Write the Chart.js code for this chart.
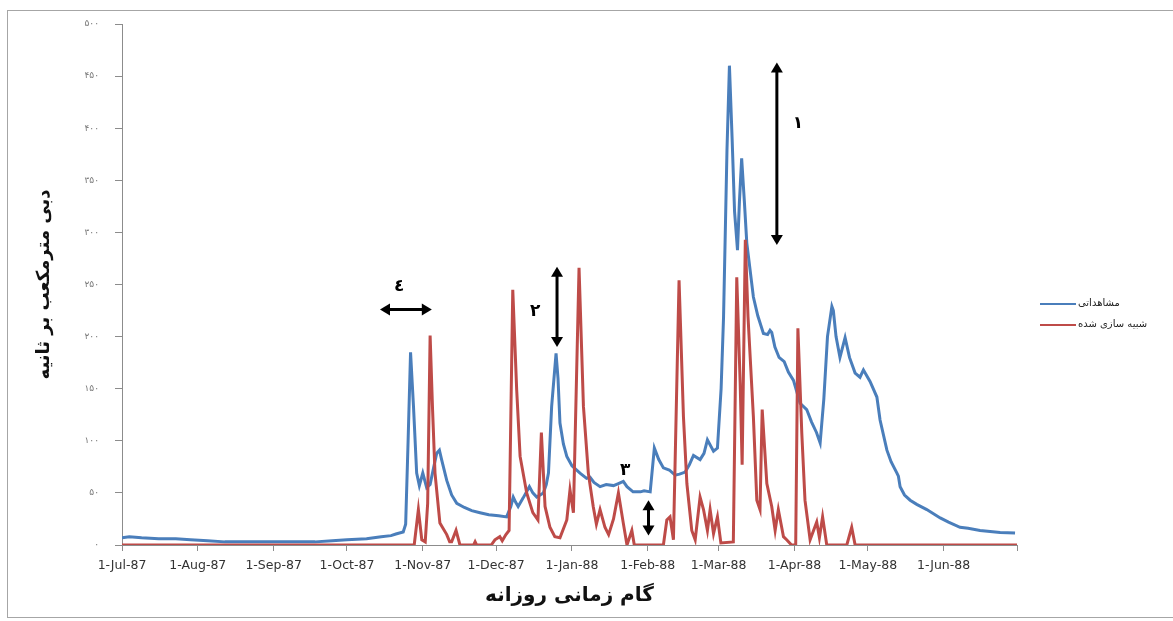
<!DOCTYPE html>
<html><head><meta charset="utf-8">
<script src="https://cdn.jsdelivr.net/npm/chart.js@4.4.1/dist/chart.umd.min.js"></script>
<style>html,body{margin:0;padding:0;background:#fff;}#wrap{position:relative;width:1173px;height:621px;}</style>
</head><body><div id="wrap"><canvas id="c" width="1173" height="621"></canvas></div>
<script>
// Day index counted from 1-Jul-1987
const monthTickDays = [0,31,62,92,123,153,184,215,244,275,305,336,366];
const monthTickLabels = ['1-Jul-87','1-Aug-87','1-Sep-87','1-Oct-87','1-Nov-87','1-Dec-87','1-Jan-88','1-Feb-88','1-Mar-88','1-Apr-88','1-May-88','1-Jun-88',''];
const yTickValues = [0,50,100,150,200,250,300,350,400,450,500];

const obsDays = [0,3,8,15,22,28,35,42,55,65,79,86,92,100,106,110,112,115,116,117,118,119.2,120.5,121.6,123,124.6,126,127.5,128.7,129.8,130.7,132.8,134.8,136.9,140,143,146.4,150,154,157.3,159,160,161,162,164,166.6,168,169.6,171,172.3,173.5,174.4,175.7,177.5,178.3,179.1,180.5,181.9,184,187.3,190,191.4,193,195.5,198,201,203,205,206.5,209,212,213.5,216,217.7,219.5,221.4,223.8,226.2,228,230.3,232,233.7,236.4,238,239.4,241.9,243.5,245,246,247.4,248.4,249.5,250.5,251.7,252.5,253.4,254.5,255.5,258.2,260,262.3,264,265,265.7,267,268.7,270.8,272.5,274.6,277.3,280,282,284,285.5,287,288.5,290.3,290.9,292,293.6,295.7,297.5,299.8,301.8,303.2,305.9,308.7,310,312.8,314.5,316.9,317.5,318.2,320,322.3,325,329.1,334.6,338,342.7,346,350.9,355,359.1,365.2];
const obsValues = [7,8,7,6,6,5,4,3,3,3,3,4,5,6,8,9,10.5,12.5,20,100,185,133,69,57,69,55,58,75,88,91,82,62,48,40,36,33,31,29,28,27,37,46,41,37,45,56,50,46,48,50,58,69,133,184,160,117,97,85,76,69,64,65,60,56,58,57,59,61,56,51,51,52,51,93,82,74,72,67,68,70,77,86,82,88,101,90,93,150,219,379,460,390,320,283,330,371,330,290,238,220,203,202,206,204,190,180,176,166,158,136,130,118,108,98,140,200,229,225,200,180,199,180,165,161,168,157,142,120,91,80,69,66,56,48,43,39,34,26,22,17,16,14,13,12,11.5];

const simDays = [0,119.5,121.2,122.6,124,125,126,127,128,130,132.8,134,134.8,136.6,138.2,143.8,144.4,145,151,152.5,154.5,155.5,157,158.3,159.8,161.4,162.8,165.5,168,170.1,171.5,173,175,177,179.1,181.9,183.2,184.6,186.9,188.7,190.7,192.7,194,195.5,197.5,199,201,203,205,206.5,208.5,209.5,221.4,222.8,224.1,225.5,227.8,229.6,231,233,234.4,236.4,237.8,239.4,240.5,241.9,243.5,244.9,250,251.4,252.8,253.6,254.9,256,258.2,259.6,260.9,261.8,263.7,265.7,267.1,268.4,270.5,271.8,273.8,275.5,276.4,278,279.3,281.4,284.1,285.2,286.5,288.2,296.4,298.4,299.8,366];
const simValues = [0,0,34,5,3,40,201,130,69,21,10,3,3,14,0,0,3,0,0,5,8,4,10,14,245,149,85,50,31,24,108,37,17,8,7,24,53,31,266,133,69,37,20,34,17,10,25,50,21,0,14,0,0,24,27,5,254,123,59,14,5,46,34,14,34,11,27,2,3,257,155,77,293,219,123,43,34,130,59,37,14,34,8,5,0,0,208,107,43,5,22,7,27,0,0,17,0,0];

const seriesNames = ['مشاهداتی','شبیه سازی شده'];
const xTitle = 'گام زمانی روزانه';
const yTitle = 'دبی مترمکعب بر ثانیه';

// annotation marks (in data units: day, value)
const vArrows = [{day:267.8,from:463,to:288},{day:177.9,from:267,to:190},{day:215.3,from:43,to:9}];
const hArrows = [{value:226,from:105.5,to:126.7}];
const annTexts = [{day:276.4,value:404,text:'۱'},{day:169,value:224,text:'۲'},{day:205.8,value:71,text:'۳'},{day:113.4,value:248,text:'٤'}];

const toFa = v => String(v).replace(/\d/g, d => '۰۱۲۳۴۵۶۷۸۹'[d]);

const BLUE = '#4a7ebb', RED = '#be4b48';

const extras = {
  id:'extras',
  beforeDraw(chart){
    const ctx = chart.ctx;
    ctx.save();
    ctx.fillStyle = '#fff';
    ctx.fillRect(0,0,chart.width,chart.height);
    ctx.strokeStyle = '#a6a6a6';
    ctx.lineWidth = 1;
    ctx.strokeRect(7.5,10.5,1200,607);
    ctx.restore();
  },
  afterDraw(chart){
    const ctx = chart.ctx, xs = chart.scales.x, ys = chart.scales.y;
    ctx.save();
    // legend
    const legendItems = [{c:BLUE,t:seriesNames[0],y:304},{c:RED,t:seriesNames[1],y:325}];
    legendItems.forEach(it=>{
      ctx.strokeStyle = it.c; ctx.lineWidth = 2;
      ctx.beginPath(); ctx.moveTo(1040,it.y); ctx.lineTo(1076,it.y); ctx.stroke();
      ctx.fillStyle = '#222'; ctx.font = '10px "DejaVu Sans"';
      ctx.textAlign = 'left'; ctx.textBaseline = 'middle';
      ctx.fillText(it.t, 1078, it.y-1);
    });
    // arrows
    ctx.fillStyle = '#000'; ctx.strokeStyle = '#000'; ctx.lineWidth = 3;
    const head = (x,y,dx,dy)=>{ // tip at x,y pointing along dx,dy
      const L=10, W=6;
      ctx.beginPath();
      ctx.moveTo(x,y);
      ctx.lineTo(x - dx*L - dy*W, y - dy*L + dx*W);
      ctx.lineTo(x - dx*L + dy*W, y - dy*L - dx*W);
      ctx.closePath(); ctx.fill();
    };
    vArrows.forEach(a=>{
      const x = xs.getPixelForValue(a.day), y1 = ys.getPixelForValue(a.from), y2 = ys.getPixelForValue(a.to);
      ctx.beginPath(); ctx.moveTo(x,y1+8); ctx.lineTo(x,y2-8); ctx.stroke();
      head(x,y1,0,-1); head(x,y2,0,1);
    });
    hArrows.forEach(a=>{
      const y = ys.getPixelForValue(a.value), x1 = xs.getPixelForValue(a.from), x2 = xs.getPixelForValue(a.to);
      ctx.beginPath(); ctx.moveTo(x1+8,y); ctx.lineTo(x2-8,y); ctx.stroke();
      head(x1,y,-1,0); head(x2,y,1,0);
    });
    ctx.font = 'bold 17px "DejaVu Sans"'; ctx.textAlign='center'; ctx.textBaseline='middle';
    annTexts.forEach(t=>{
      ctx.fillText(t.text, xs.getPixelForValue(t.day), ys.getPixelForValue(t.value));
    });
    ctx.restore();
  }
};

new Chart(document.getElementById('c'), {
  type:'line',
  data:{
    datasets:[
      {label:seriesNames[0], data:obsDays.map((d,i)=>({x:d,y:obsValues[i]})), borderColor:BLUE, backgroundColor:BLUE, borderWidth:3, pointRadius:0, tension:0, order:1},
      {label:seriesNames[1], data:simDays.map((d,i)=>({x:d,y:simValues[i]})), borderColor:RED, backgroundColor:RED, borderWidth:3, pointRadius:0, tension:0, order:0}
    ]
  },
  options:{
    responsive:false, animation:false, devicePixelRatio:1,
    layout:{padding:{left:0,right:156,top:24,bottom:0}},
    plugins:{legend:{display:false}, tooltip:{enabled:false}},
    scales:{
      x:{
        type:'linear', min:0, max:366,
        afterBuildTicks(s){ s.ticks = monthTickDays.map(v=>({value:v})); },
        afterFit(s){ s.height = 76; },
        ticks:{autoSkip:false, maxRotation:0, minRotation:0, padding:7, color:'#333', font:{family:'DejaVu Sans', size:12.5},
          callback:(v,i)=>monthTickLabels[i]},
        grid:{display:true, drawOnChartArea:false, drawTicks:true, tickLength:6, color:'#8c8c8c'},
        border:{display:true, color:'#8c8c8c', width:1},
        title:{display:true, text:xTitle, color:'#111', font:{family:'DejaVu Sans', size:20, weight:'bold'}, padding:{top:0,bottom:13}}
      },
      y:{
        type:'linear', min:0, max:500,
        afterBuildTicks(s){ s.ticks = yTickValues.map(v=>({value:v})); },
        afterFit(s){ s.width = 122; },
        ticks:{padding:16, color:'#777', font:{family:'DejaVu Sans', size:9}, callback:v=>toFa(v)},
        grid:{display:true, drawOnChartArea:false, drawTicks:true, tickLength:7, color:'#8c8c8c'},
        border:{display:true, color:'#8c8c8c', width:1},
        title:{display:true, text:yTitle, color:'#111', font:{family:'DejaVu Sans', size:18, weight:'bold'}, padding:{top:34,bottom:0}}
      }
    }
  },
  plugins:[extras]
});
</script></body></html>
